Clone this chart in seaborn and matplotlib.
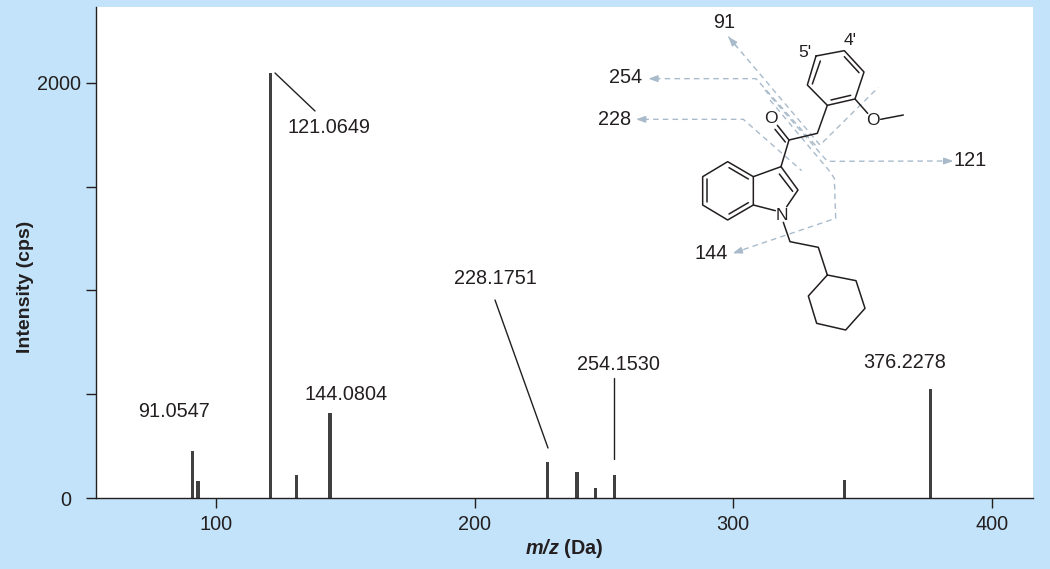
import matplotlib
matplotlib.use("Agg")
import matplotlib.pyplot as plt
import seaborn as sns

# spectrum peaks
mz = [91.05, 93.0, 121.06, 131.1, 144.08, 228.18, 239.6, 246.8, 254.15, 343.0, 376.23]
intensity = [226, 82, 2048, 111, 410, 173, 125, 48, 111, 87, 525]

x_ticks = [100, 200, 300, 400]
y_ticks = [0, 500, 1000, 1500, 2000]
y_tick_labels = ["0", "", "", "", "2000"]

# peak labels: text, centre x, centre y (pixels)
peak_labels = [
    ("91.0547", 174, 411),
    ("121.0649", 329, 127),
    ("144.0804", 346, 394),
    ("228.1751", 495, 278),
    ("254.1530", 618, 364),
    ("376.2278", 905, 362),
]
leaders = [
    ((275, 73), (315, 111)),
    ((495, 300), (548, 448)),
    ((613.5, 378), (613.5, 459)),
]

BG = "#C2E3F9"
INK = "#231F20"
DASH = "#A9BBCB"

sns.set_style("white")
plt.rcParams["font.family"] = ["Liberation Sans", "DejaVu Sans"]
plt.rcParams["mathtext.fontset"] = "custom"
plt.rcParams["mathtext.bfit"] = "Liberation Sans:italic:bold"
plt.rcParams["mathtext.rm"] = "Liberation Sans"

fig = plt.figure(figsize=(10.5, 5.69), dpi=100, facecolor=BG)
ax = fig.add_axes([96 / 1050, 71 / 569, 937 / 1050, 491 / 569])
ax.set_facecolor("white")

sns.barplot(x=mz, y=intensity, native_scale=True, width=0.65, color="#404040",
            saturation=1, linewidth=0, ax=ax)

ax.set_xlim(53.6, 416)
ax.set_ylim(0, 2366)
ax.set_xticks(x_ticks)
ax.set_xticklabels([str(t) for t in x_ticks])
ax.set_yticks(y_ticks)
ax.set_yticklabels(y_tick_labels)
ax.tick_params(axis="both", length=7.5, width=1, color=INK, labelcolor=INK, labelsize=14.3,
               left=True, bottom=True)
ax.tick_params(axis="x", pad=5)
ax.tick_params(axis="y", pad=3.5)
ax.yaxis.get_major_ticks()[0].set_pad(10)
ax.set_xlabel("")
ax.set_ylabel("")
sns.despine(ax=ax)
for side in ["left", "bottom"]:
    ax.spines[side].set_color(INK)
    ax.spines[side].set_linewidth(1)

# overlay in image pixels for the annotations and the structure
ov = fig.add_axes([0, 0, 1, 1], zorder=5)
ov.set_xlim(0, 1050)
ov.set_ylim(569, 0)
ov.axis("off")
ov.patch.set_alpha(0)


def z(p):
    return 600 + p[0] / 3, p[1] / 3


def bonds(points, closed=False, lw=1.1, color=INK, **kw):
    pts = [z(p) for p in points]
    if closed:
        pts.append(pts[0])
    ov.plot([p[0] for p in pts], [p[1] for p in pts], color=color, lw=lw,
            solid_capstyle="round", solid_joinstyle="round", **kw)


def dashed(points):
    pts = [z(p) for p in points]
    ov.plot([p[0] for p in pts], [p[1] for p in pts], color=DASH, lw=1.0,
            dashes=(4, 3), zorder=1)


def arrow(tip, tail):
    ov.annotate("", xy=z(tip), xytext=z(tail),
                arrowprops=dict(arrowstyle="-|>,head_length=0.55,head_width=0.2", color=DASH,
                                lw=1.0, shrinkA=0, shrinkB=0))


for text, px, py in peak_labels:
    ov.text(px, py, text, ha="center", va="center", fontsize=14.3, color=INK)
for a, b in leaders:
    ov.plot([a[0], b[0]], [a[1], b[1]], color=INK, lw=1.0)

ov.text(26, 286.5, "Intensity (cps)", rotation=90, ha="center", va="center",
        fontsize=14, fontweight="bold", color=INK)
ov.text(564.5, 549, r"$\mathbfit{m/z}$ (Da)", ha="center", va="center",
        fontsize=14.3, fontweight="bold", color=INK)

# fragmentation paths
dashed([(385, 110), (660, 435), (835, 262)])
arrow((385, 110), (410, 140))
dashed([(165, 236), (468, 236), (650, 440)])
arrow((145, 236), (175, 236))
dashed([(130, 358), (430, 358), (605, 512)])
arrow((108, 358), (138, 358))
dashed([(495, 270), (682, 484), (1040, 483)])
arrow((1060, 483), (1030, 483))
dashed([(510, 300), (690, 515), (703, 535), (707, 655), (420, 752)])
arrow((398, 760), (428, 750))

# methoxyphenyl ring
bonds([(648, 168), (733, 152), (792, 216), (765, 297), (682, 316), (622, 255)], closed=True)
bonds([(661, 183), (637, 252)])
bonds([(733, 170), (777, 218)])
bonds([(752, 286), (693, 300)])
# CH2 and carbonyl
bonds([(682, 316), (652, 400), (567, 420), (543, 500)])
bonds([(567, 420), (532, 376)])
bonds([(556, 426), (525, 388)])
# indole
bonds([(543, 500), (594, 570), (560, 620)])
bonds([(526, 632), (460, 615), (460, 530), (543, 500)])
bonds([(538, 522), (578, 574)])
bonds([(460, 530), (383, 485), (308, 530), (308, 615), (383, 660), (460, 615)])
bonds([(387, 503), (445, 537)])
bonds([(322, 537), (322, 606)])
bonds([(387, 642), (445, 608)])
# chain and cyclohexane
bonds([(550, 667), (570, 725), (655, 742), (682, 825)])
bonds([(682, 825), (768, 842), (795, 925), (737, 990), (650, 970), (625, 888)], closed=True)
# methoxy
bonds([(765, 297), (803, 340)])
bonds([(842, 358), (910, 345)])

for text, zx, zy in [("O", 514, 356), ("O", 820, 362), ("N", 546, 645), ("4'", 750, 122),
                     ("5'", 616, 158)]:
    x, y = z((zx, zy))
    ov.text(x, y, text, ha="center", va="center", fontsize=12.5, color=INK)
for text, zx, zy in [("91", 373, 68), ("254", 77, 232), ("228", 45, 358), ("121", 1110, 482),
                     ("144", 335, 760)]:
    x, y = z((zx, zy))
    ov.text(x, y, text, ha="center", va="center", fontsize=14.3, color=INK)

fig.savefig("out.png", dpi=100, facecolor=BG)
